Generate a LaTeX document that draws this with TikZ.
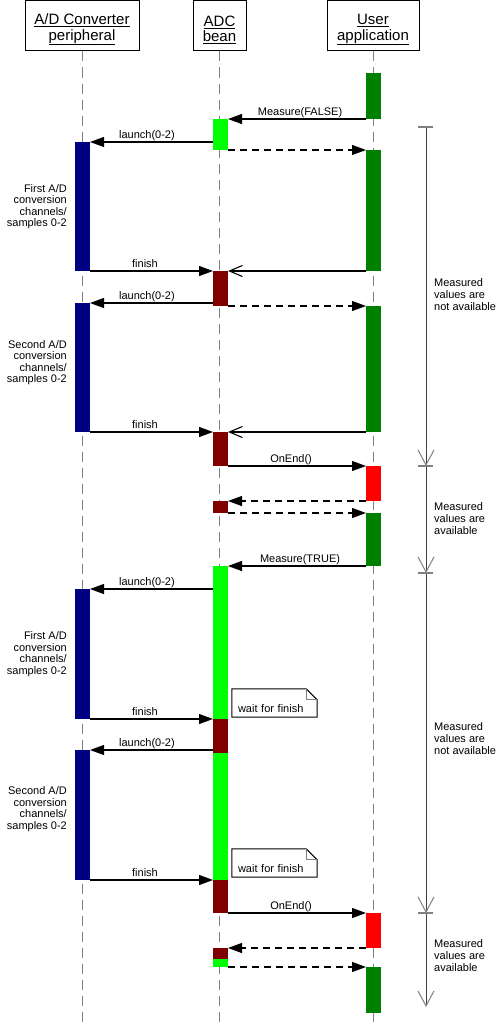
\documentclass[tikz,border=0pt]{standalone}
\usepackage{fontspec}
\setmainfont{Liberation Sans}
\usetikzlibrary{arrows.meta,calc}
\definecolor{dkgreen}{RGB}{0,128,0}
\definecolor{ltgreen}{RGB}{0,255,0}
\definecolor{navybar}{RGB}{0,0,128}
\definecolor{dkred}{RGB}{128,0,0}
\definecolor{brightred}{RGB}{255,0,0}
\definecolor{lifegray}{RGB}{128,128,128}
\definecolor{timegray}{RGB}{64,64,64}
\newcommand\actbar[5]{\node[actbox, fill=#5, minimum height={(#3)-(#2)}] (#1) at (#4,{((#2)+(#3))/2}) {};}
\newcommand\hstrut{\rule{0pt}{18pt}}
\tikzset{
  actbox/.style={rectangle, draw=none, minimum width=15pt, inner sep=0pt, outer sep=0pt},
  msg/.style={line width=1.1pt, -{Triangle[length=14pt,width=10pt]}},
  ret/.style={msg, dash pattern=on 7pt off 5pt},
  reply/.style={line width=1.1pt, -{Straight Barb[length=13pt,width=11pt,line width=1.1pt]}},
  lbl/.style={font=\fontsize{11}{11.5}\selectfont, anchor=base, yshift=4pt, inner sep=0pt},
  header/.style={draw, line width=1pt, font=\fontsize{15}{15.3}\selectfont, align=center, minimum height=50pt, inner sep=0pt},
  life/.style={draw=lifegray, line width=1pt, dash pattern=on 10pt off 6pt},
  side/.style={font=\fontsize{11}{11.5}\selectfont, align=right, anchor=east, inner sep=0pt},
  avail/.style={font=\fontsize{11}{12}\selectfont, align=left, anchor=west, inner sep=0pt},
  timeline/.style={draw=timegray, line width=1pt, -{Straight Barb[length=15pt,width=16pt,line width=1pt,color=lifegray]}},
  tick/.style={draw=lifegray, line width=1.5pt},
  note/.style={rectangle, draw=none, font=\fontsize{11}{11.5}\selectfont, text width=73pt, inner xsep=6pt, inner ysep=0pt, text height=23pt, text depth=5pt, align=left},
  noteline/.style={line width=1pt},
  fold/.style={draw=lifegray, line width=0.8pt}
}
\begin{document}
\begin{tikzpicture}[x=1pt,y=-1pt]
\useasboundingbox[fill=white] (0,0) rectangle (500,1025);
% headers
\node[header, minimum width=114pt] (h1) at (82,26) {\hstrut\underline{A/D Converter}\\\underline{peripheral}};
\node[header, minimum width=53pt] (h2) at (219.5,26) {\hstrut\underline{ADC}\\\underline{bean}};
\node[header, minimum width=92pt] (h3) at (373,26) {\hstrut\underline{User}\\\underline{application}};
% lifelines
\coordinate (e1) at (82,1025);
\coordinate (e2) at (219.5,1025);
\coordinate (e3) at (373,1025);
\draw[life] (h1.south) -- (e1);
\draw[life] (h2.south) -- (e2);
\draw[life] (h3.south) -- (e3);
% activation bars
\actbar{u1}{73}{119}{373.5}{dkgreen}
\actbar{a1}{119}{150}{220.5}{ltgreen}
\actbar{b1}{142}{271}{82.5}{navybar}
\actbar{u2}{150}{271}{373.5}{dkgreen}
\actbar{a2}{271}{306}{220.5}{dkred}
\actbar{b2}{303}{432}{82.5}{navybar}
\actbar{u3}{306}{432}{373.5}{dkgreen}
\actbar{a3}{432}{466}{220.5}{dkred}
\actbar{u4}{466}{501}{373.5}{brightred}
\actbar{a4}{501}{513}{220.5}{dkred}
\actbar{u5}{513}{566}{373.5}{dkgreen}
\actbar{a5}{566}{719}{220.5}{ltgreen}
\actbar{b3}{589}{719}{82.5}{navybar}
\actbar{a6}{719}{753}{220.5}{dkred}
\actbar{b4}{750}{880}{82.5}{navybar}
\actbar{a7}{753}{880}{220.5}{ltgreen}
\actbar{a8}{880}{913}{220.5}{dkred}
\actbar{u6}{913}{948}{373.5}{brightred}
\actbar{a9}{948}{959}{220.5}{dkred}
\actbar{a10}{959}{967}{220.5}{ltgreen}
\actbar{u7}{967}{1013}{373.5}{dkgreen}
% messages
\draw[msg] (u1.south west) -- node[lbl,pos=0.478]{Measure(FALSE)} (a1.north east);
\draw[msg] (a1.west |- b1.north) -- node[lbl,pos=0.537]{launch(0-2)} (b1.north east);
\draw[ret] (a1.south east) -- (u2.north west);
\draw[msg] (b1.south east) -- node[lbl,pos=0.447]{finish} (a2.north west);
\draw[reply] (u2.south west) -- (a2.north east);
\draw[msg] (a2.west |- b2.north) -- node[lbl,pos=0.537]{launch(0-2)} (b2.north east);
\draw[ret] (a2.south east) -- (u3.north west);
\draw[msg] (b2.south east) -- node[lbl,pos=0.447]{finish} (a3.north west);
\draw[reply] (u3.south west) -- (a3.north east);
\draw[msg] (a3.south east) -- node[lbl,pos=0.457]{OnEnd()} (u4.north west);
\draw[ret] (u4.south west) -- (a4.north east);
\draw[ret] (a4.south east) -- (u5.north west);
\draw[msg] (u5.south west) -- node[lbl,pos=0.478]{Measure(TRUE)} (a5.north east);
\draw[msg] (a5.west |- b3.north) -- node[lbl,pos=0.537]{launch(0-2)} (b3.north east);
\draw[msg] (b3.south east) -- node[lbl,pos=0.447]{finish} (a6.north west);
\draw[msg] (a6.west |- b4.north) -- node[lbl,pos=0.537]{launch(0-2)} (b4.north east);
\draw[msg] (b4.south east) -- node[lbl,pos=0.447]{finish} (a8.north west);
\draw[msg] (a8.south east) -- node[lbl,pos=0.457]{OnEnd()} (u6.north west);
\draw[ret] (u6.south west) -- (a9.north east);
\draw[ret] (a10.south east) -- (u7.north west);
% side texts
\node[side] (s1) at ([xshift=-8pt]b1.west) {First A/D\\conversion\\channels/\\samples 0-2};
\node[side] (s2) at ([xshift=-8pt,yshift=5pt]b2.west) {Second A/D\\conversion\\channels/\\samples 0-2};
\node[side] (s3) at ([xshift=-8pt]b3.west) {First A/D\\conversion\\channels/\\samples 0-2};
\node[side] (s4) at ([xshift=-8pt,yshift=6pt]b4.west) {Second A/D\\conversion\\channels/\\samples 0-2};
% notes
\node[note] (n1) at (274.5,703) {wait for finish};
\draw[noteline] (n1.north west) -- ([xshift=-11pt]n1.north east) -- ([yshift=-11pt]n1.north east) -- (n1.south east) -- (n1.south west) -- cycle;
\draw[fold] ([xshift=-11pt]n1.north east) -- ([xshift=-11pt,yshift=-11pt]n1.north east) -- ([yshift=-11pt]n1.north east);
\node[note] (n2) at (274.5,863) {wait for finish};
\draw[noteline] (n2.north west) -- ([xshift=-11pt]n2.north east) -- ([yshift=-11pt]n2.north east) -- (n2.south east) -- (n2.south west) -- cycle;
\draw[fold] ([xshift=-11pt]n2.north east) -- ([xshift=-11pt,yshift=-11pt]n2.north east) -- ([yshift=-11pt]n2.north east);
% time line
\coordinate (t0) at (426,127);
\coordinate (t1) at (426,466);
\coordinate (t2) at (426,573);
\coordinate (t3) at (426,913);
\coordinate (t4) at (426,1007);
\draw[timeline] (t0) -- (t1);
\draw[timeline] (t1) -- (t2);
\draw[timeline] (t2) -- (t3);
\draw[timeline] (t3) -- (t4);
\foreach \t in {t0,t1,t2,t3} \draw[tick] ([xshift=-8pt]\t) -- ([xshift=7pt]\t);
\node[avail] (m1) at (434,295) {Measured\\values are\\not available};
\node[avail] (m2) at (434,519) {Measured\\values are\\available};
\node[avail] (m3) at (434,739) {Measured\\values are\\not available};
\node[avail] (m4) at (434,956) {Measured\\values are\\available};
\end{tikzpicture}
\end{document}
